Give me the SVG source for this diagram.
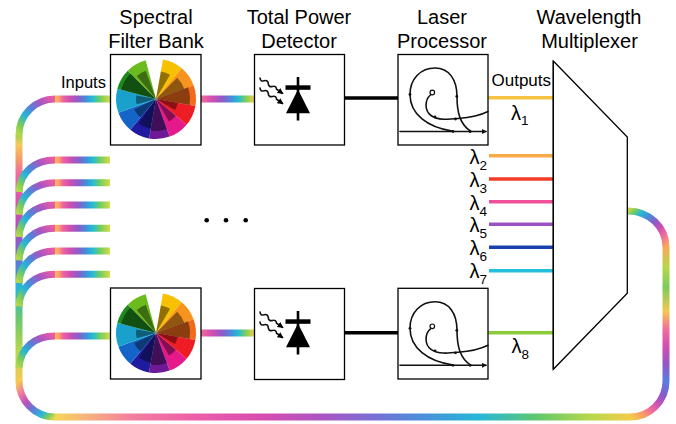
<svg xmlns="http://www.w3.org/2000/svg" xmlns:xlink="http://www.w3.org/1999/xlink" width="676" height="424" viewBox="0 0 676 424">
  <style>
    text { font-family: "Liberation Sans", Arial, Helvetica, sans-serif; fill: #000; }
    .title { font-size: 20px; text-anchor: middle; }
    .port { font-size: 16.5px; }
    .lam { font-size: 20px; }
    .sub { font-size: 13.5px; }
    .box { fill: #fff; stroke: #000; stroke-width: 1.3; }
    .rb { fill: none; stroke-width: 7; stroke-linecap: butt; }
    .link { fill: none; stroke: #000; stroke-width: 3.5; }
    .out { fill: none; stroke-width: 3.5; }
    .glow { fill: none; stroke: #9a9a9a; stroke-width: 5; opacity: 0.45; filter: url(#soft); }
    .ink { fill: none; stroke: #111; stroke-width: 1.6; stroke-linecap: round; }
    .shade { fill: #000; opacity: 0.42; }
  </style>
  <defs>
    <filter id="soft" x="-10%" y="-200%" width="120%" height="500%">
      <feGaussianBlur stdDeviation="1.3"/>
    </filter>
    <marker id="head" viewBox="0 0 10 10" refX="8" refY="5" markerWidth="6" markerHeight="6" markerUnits="userSpaceOnUse" orient="auto">
      <path d="M0,0 L10,5 L0,10 z" fill="#000"/>
    </marker>
    <marker id="headSmall" viewBox="0 0 10 10" refX="8" refY="5" markerWidth="5" markerHeight="5" markerUnits="userSpaceOnUse" orient="auto">
      <path d="M0,0 L10,5 L0,10 z" fill="#111"/>
    </marker>

    <!-- rainbow fibre gradients -->
    <linearGradient id="gStub" gradientUnits="userSpaceOnUse" x1="55" y1="0" x2="110" y2="0">
      <stop offset="0" stop-color="#fbbf4d"/>
      <stop offset="0.07" stop-color="#f9a070"/>
      <stop offset="0.14" stop-color="#f2639a"/>
      <stop offset="0.28" stop-color="#c94fb4"/>
      <stop offset="0.42" stop-color="#8f5bc8"/>
      <stop offset="0.55" stop-color="#4a88d8"/>
      <stop offset="0.68" stop-color="#20bcd8"/>
      <stop offset="0.82" stop-color="#72cc60"/>
      <stop offset="1" stop-color="#d6dc44"/>
    </linearGradient>
    <linearGradient id="gMid" gradientUnits="userSpaceOnUse" x1="201" y1="0" x2="254" y2="0">
      <stop offset="0" stop-color="#f26a9a"/>
      <stop offset="0.2" stop-color="#d24fb0"/>
      <stop offset="0.4" stop-color="#9358c8"/>
      <stop offset="0.55" stop-color="#4f86d8"/>
      <stop offset="0.7" stop-color="#22bad6"/>
      <stop offset="0.85" stop-color="#80ce58"/>
      <stop offset="1" stop-color="#ecd048"/>
    </linearGradient>
    <linearGradient id="gBranch" x1="1" y1="0" x2="0" y2="1">
      <stop offset="0" stop-color="#ee5aa6"/>
      <stop offset="0.25" stop-color="#a856c2"/>
      <stop offset="0.45" stop-color="#5a7ed8"/>
      <stop offset="0.65" stop-color="#26b6d6"/>
      <stop offset="0.85" stop-color="#7fcc58"/>
      <stop offset="1" stop-color="#b6d84a"/>
    </linearGradient>
    <linearGradient id="gTrunk" gradientUnits="userSpaceOnUse" x1="0" y1="135" x2="0" y2="381">
      <stop offset="0" stop-color="#a6d24e"/>
      <stop offset="0.04" stop-color="#f6c85a"/>
      <stop offset="0.1" stop-color="#f59a6a"/>
      <stop offset="0.16" stop-color="#f06aa0"/>
      <stop offset="0.3" stop-color="#d24db0"/>
      <stop offset="0.42" stop-color="#9a55c6"/>
      <stop offset="0.52" stop-color="#5a7cd8"/>
      <stop offset="0.62" stop-color="#27b5d6"/>
      <stop offset="0.75" stop-color="#6cc86c"/>
      <stop offset="0.88" stop-color="#b8d84c"/>
      <stop offset="1" stop-color="#f7c850"/>
    </linearGradient>
    <linearGradient id="gBLArc" x1="0" y1="0" x2="1" y2="1">
      <stop offset="0" stop-color="#f7c850"/>
      <stop offset="0.2" stop-color="#f07aa0"/>
      <stop offset="0.4" stop-color="#b852bc"/>
      <stop offset="0.6" stop-color="#5a80d8"/>
      <stop offset="0.78" stop-color="#2cb8d4"/>
      <stop offset="0.9" stop-color="#7ccc5c"/>
      <stop offset="1" stop-color="#d8d84a"/>
    </linearGradient>
    <linearGradient id="gBottom" gradientUnits="userSpaceOnUse" x1="55" y1="0" x2="630" y2="0">
      <stop offset="0" stop-color="#f5d654"/>
      <stop offset="0.05" stop-color="#f8b67a"/>
      <stop offset="0.13" stop-color="#f2809e"/>
      <stop offset="0.25" stop-color="#ec5ca8"/>
      <stop offset="0.36" stop-color="#d84cb0"/>
      <stop offset="0.47" stop-color="#a856c4"/>
      <stop offset="0.56" stop-color="#7470d6"/>
      <stop offset="0.64" stop-color="#4a90dc"/>
      <stop offset="0.74" stop-color="#26b8d6"/>
      <stop offset="0.84" stop-color="#62c86c"/>
      <stop offset="0.93" stop-color="#b6d84c"/>
      <stop offset="1" stop-color="#f4cc48"/>
    </linearGradient>
    <linearGradient id="gBRArc" x1="0" y1="1" x2="1" y2="0">
      <stop offset="0" stop-color="#f4cc48"/>
      <stop offset="0.2" stop-color="#f8a060"/>
      <stop offset="0.4" stop-color="#f06aa0"/>
      <stop offset="0.6" stop-color="#c050b8"/>
      <stop offset="0.8" stop-color="#8060d0"/>
      <stop offset="1" stop-color="#5a7ee0"/>
    </linearGradient>
    <linearGradient id="gRight" gradientUnits="userSpaceOnUse" x1="0" y1="381" x2="0" y2="247">
      <stop offset="0" stop-color="#5a7ee0"/>
      <stop offset="0.12" stop-color="#9058c8"/>
      <stop offset="0.25" stop-color="#d04eb0"/>
      <stop offset="0.38" stop-color="#f06aa0"/>
      <stop offset="0.52" stop-color="#f4c850"/>
      <stop offset="0.7" stop-color="#7ccc5c"/>
      <stop offset="0.85" stop-color="#b6d84a"/>
      <stop offset="1" stop-color="#f8a858"/>
    </linearGradient>
    <linearGradient id="gTRArc" x1="1" y1="1" x2="0" y2="0">
      <stop offset="0" stop-color="#f8a858"/>
      <stop offset="0.2" stop-color="#f06aa0"/>
      <stop offset="0.35" stop-color="#c850b4"/>
      <stop offset="0.5" stop-color="#8c5cc8"/>
      <stop offset="0.65" stop-color="#4a8ad8"/>
      <stop offset="0.8" stop-color="#26b8d6"/>
      <stop offset="0.92" stop-color="#7ccc5c"/>
      <stop offset="1" stop-color="#c4d84a"/>
    </linearGradient>

    <!-- colour wheel, centred on 0,0 -->
    <g id="wheel">
      <path d="M0 0 L6.95 -39.39 A40 40 0 0 1 25.71 -30.64 Z" fill="#f7c100"/>
      <path d="M0 0 L25.71 -30.64 A40 40 0 0 1 37.59 -13.68 Z" fill="#f7941d"/>
      <path d="M0 0 L37.59 -13.68 A40 40 0 0 1 39.39 6.95 Z" fill="#f26a1b"/>
      <path d="M0 0 L39.39 6.95 A40 40 0 0 1 30.64 25.71 Z" fill="#ee1c25"/>
      <path d="M0 0 L30.64 25.71 A40 40 0 0 1 13.68 37.59 Z" fill="#e6198a"/>
      <path d="M0 0 L13.68 37.59 A40 40 0 0 1 -6.95 39.39 Z" fill="#6e1a96"/>
      <path d="M0 0 L-6.95 39.39 A40 40 0 0 1 -25.71 30.64 Z" fill="#1f1a9e"/>
      <path d="M0 0 L-25.71 30.64 A40 40 0 0 1 -37.59 13.68 Z" fill="#1565c8"/>
      <path d="M0 0 L-37.59 13.68 A40 40 0 0 1 -38.64 -10.35 Z" fill="#1aa0cc"/>
      <path d="M0 0 L-38.64 -10.35 A40 40 0 0 1 -28.28 -28.28 Z" fill="#1e8a1e"/>
      <path d="M0 0 L-28.28 -28.28 A40 40 0 0 1 -10.35 -38.64 Z" fill="#6cbb1e"/>
      <!-- darker inner shades -->
      <path class="shade" d="M0 0 L4.86 -27.57 A28 28 0 0 1 14 -24.25 Z"/>
      <path class="shade" d="M0 0 L21.21 -21.21 A30 30 0 0 1 28.19 -10.26 Z"/>
      <path class="shade" d="M0 0 L31.95 -11.63 A34 34 0 0 1 33.48 5.9 Z"/>
      <path class="shade" d="M0 0 L21.67 3.82 A22 22 0 0 1 19.05 11 Z"/>
      <path class="shade" d="M0 0 L19.92 16.71 A26 26 0 0 1 13 22.52 Z"/>
      <path class="shade" d="M0 0 L10.94 30.07 A32 32 0 0 1 -5.56 31.51 Z"/>
      <path class="shade" d="M0 0 L-5.21 29.54 A30 30 0 0 1 -17.21 24.57 Z"/>
      <path class="shade" d="M0 0 L-15.43 18.38 A24 24 0 0 1 -21.75 10.14 Z"/>
      <path class="shade" d="M0 0 L-19.32 5.18 A20 20 0 0 1 -19.7 -3.47 Z"/>
      <path class="shade" d="M0 0 L-34.77 -9.32 A36 36 0 0 1 -25.46 -25.46 Z"/>
      <path class="shade" d="M0 0 L-19.28 -22.98 A30 30 0 0 1 -10.26 -28.19 Z"/>
      <circle r="1.6" fill="#888"/>
    </g>

    <!-- photodiode with incoming light, relative to its box corner -->
    <g id="diode">
      <path class="ink" d="M5.5 23.5 q0.38 3.89 4.14 2.81 t4.14 2.81 t4.14 2.81 t4.14 2.81 L28 38.8" stroke-width="1.3" marker-end="url(#head)"/>
      <path class="ink" d="M5.5 33.5 q0.38 3.89 4.14 2.81 t4.14 2.81 t4.14 2.81 t4.14 2.81 L28 49" stroke-width="1.3" marker-end="url(#head)"/>
      <line x1="43.5" y1="22.5" x2="43.5" y2="66" stroke="#000" stroke-width="2.6"/>
      <rect x="31" y="30.8" width="25" height="4.5" fill="#000"/>
      <path d="M43.5 35 L55.5 58.8 L31.5 58.8 Z" fill="#000"/>
    </g>

    <!-- laser trajectory sketch, relative to its box corner -->
    <g id="laser">
      <path class="ink" d="M2 77 L88 77" marker-end="url(#headSmall)"/>
      <path class="ink" d="M54 76.5 C30 73 12 60 12 40 C12 24 23 13.5 37 13.5 C51 13.5 59 25 59 42 C59 58 62 70 73 77"/>
      <path class="ink" d="M32.5 40.5 C27 45 26 56 33 61 C40 66 50 65 60 64 C72 63 82 61 90 57"/>
      <circle cx="34.3" cy="38" r="2.3" fill="#fff" stroke="#111" stroke-width="1.2"/>
      <g fill="#111">
        <circle cx="12" cy="40" r="1.4"/>
        <circle cx="58.8" cy="42" r="1.4"/>
        <circle cx="37" cy="62.5" r="1.4"/>
        <circle cx="57.5" cy="64.5" r="1.4"/>
        <circle cx="55" cy="77" r="1.4"/>
        <circle cx="72" cy="77" r="1.4"/>
      </g>
    </g>
  </defs>

  <rect width="676" height="424" fill="#fff"/>

  <!-- fibres and wires -->
  <g id="connectors">
    <!-- input bus -->
    <path class="rb" d="M110 99 H55" stroke="url(#gStub)"/>
    <path class="rb" d="M55 99 A36 36 0 0 0 19 135" stroke="url(#gBranch)"/>
    <path class="rb" d="M19 135 V381" stroke="url(#gTrunk)"/>
    <path class="rb" d="M19 381 A36 36 0 0 0 55 417" stroke="url(#gBLArc)"/>
    <path class="rb" d="M55 417 H630" stroke="url(#gBottom)"/>
    <path class="rb" d="M630 417 A36 36 0 0 0 666 381" stroke="url(#gBRArc)"/>
    <path class="rb" d="M666 381 V247" stroke="url(#gRight)"/>
    <path class="rb" d="M666 247 A38 36 0 0 0 628 211" stroke="url(#gTRArc)"/>

    <!-- branches off the bus -->
    <path class="rb" d="M55 160 C35 160 20 172 19 192" stroke="url(#gBranch)"/>
    <path class="rb" d="M55 182.7 C35 182.7 20 194.7 19 214.7" stroke="url(#gBranch)"/>
    <path class="rb" d="M55 205 C35 205 20 217 19 237" stroke="url(#gBranch)"/>
    <path class="rb" d="M55 228.3 C35 228.3 20 240.3 19 260.3" stroke="url(#gBranch)"/>
    <path class="rb" d="M55 251 C35 251 20 263 19 283" stroke="url(#gBranch)"/>
    <path class="rb" d="M55 274.3 C35 274.3 20 286.3 19 306.3" stroke="url(#gBranch)"/>
    <path class="rb" d="M55 336 C35 336 20 348 19 368" stroke="url(#gBranch)"/>
    <path class="rb" d="M55 160 H110" stroke="url(#gStub)"/>
    <path class="rb" d="M55 182.7 H110" stroke="url(#gStub)"/>
    <path class="rb" d="M55 205 H110" stroke="url(#gStub)"/>
    <path class="rb" d="M55 228.3 H110" stroke="url(#gStub)"/>
    <path class="rb" d="M55 251 H110" stroke="url(#gStub)"/>
    <path class="rb" d="M55 274.3 H110" stroke="url(#gStub)"/>
    <path class="rb" d="M55 336 H110" stroke="url(#gStub)"/>

    <!-- filter bank to detector -->
    <path class="rb" d="M201 99 H254.5" stroke="url(#gMid)"/>
    <path class="rb" d="M201 333 H254.5" stroke="url(#gMid)"/>

    <!-- detector to laser -->
    <path class="link" d="M344.5 98 H398"/>
    <path class="link" d="M344.5 332.7 H398"/>

    <!-- laser outputs into the multiplexer -->
    <g>
      <path class="glow" d="M490 97.7 H553"/>
      <path class="glow" d="M489 155.7 H553"/>
      <path class="glow" d="M489 179 H553"/>
      <path class="glow" d="M489 201.7 H553"/>
      <path class="glow" d="M489 224.3 H553"/>
      <path class="glow" d="M489 247.3 H553"/>
      <path class="glow" d="M489 270.7 H553"/>
      <path class="glow" d="M489 332.7 H553"/>
    </g>
    <path class="out" d="M488.5 97.7 H553" stroke="#f6c244"/>
    <path class="out" d="M489 155.7 H553" stroke="#f9aa48"/>
    <path class="out" d="M489 179 H553" stroke="#f23c26"/>
    <path class="out" d="M489 201.7 H553" stroke="#f0509a"/>
    <path class="out" d="M489 224.3 H553" stroke="#9a52c0"/>
    <path class="out" d="M489 247.3 H553" stroke="#1a40b0"/>
    <path class="out" d="M489 270.7 H553" stroke="#22c0dc"/>
    <path class="out" d="M488.5 332.7 H553" stroke="#8acb3c"/>
  </g>

  <!-- top channel -->
  <g id="filter-bank-1">
    <rect class="box" x="110.5" y="54.5" width="90.5" height="90.5"/>
    <use xlink:href="#wheel" href="#wheel" x="156" y="99"/>
    <text class="title" x="156" y="24">Spectral</text>
    <text class="title" x="156" y="47.5">Filter Bank</text>
  </g>
  <g id="power-detector-1">
    <rect class="box" x="254.5" y="54.5" width="90" height="90.5"/>
    <use xlink:href="#diode" href="#diode" x="254.5" y="54.5"/>
    <text class="title" x="299" y="24">Total Power</text>
    <text class="title" x="299" y="47.5">Detector</text>
  </g>
  <g id="laser-processor-1">
    <rect class="box" x="398" y="54.5" width="90" height="90.5"/>
    <use xlink:href="#laser" href="#laser" x="398" y="54.5"/>
    <text class="title" x="442" y="24">Laser</text>
    <text class="title" x="442" y="47.5">Processor</text>
  </g>

  <!-- bottom channel -->
  <g id="filter-bank-8">
    <rect class="box" x="110.5" y="288" width="90.5" height="91"/>
    <use xlink:href="#wheel" href="#wheel" x="156" y="333"/>
  </g>
  <g id="power-detector-8">
    <rect class="box" x="254.5" y="288.5" width="90" height="91"/>
    <use xlink:href="#diode" href="#diode" x="254.5" y="288.5"/>
  </g>
  <g id="laser-processor-8">
    <rect class="box" x="398" y="288.3" width="90" height="90.7"/>
    <use xlink:href="#laser" href="#laser" x="398" y="288.3"/>
  </g>

  <!-- multiplexer -->
  <g id="multiplexer">
    <polygon points="553.3,61 627.3,137 627.3,293.3 553.3,369.3" fill="#fff" stroke="#000" stroke-width="1.3"/>
    <path d="M553.3 61 V369.3" stroke="#000" stroke-width="1.3"/>
    <text class="title" x="589" y="24">Wavelength</text>
    <text class="title" x="589.5" y="47.5">Multiplexer</text>
  </g>

  <!-- port labels and wavelengths -->
  <g id="labels">
    <text class="port" x="61" y="88">Inputs</text>
    <text class="port" x="491.5" y="86" style="font-size:17px">Outputs</text>
    <text class="lam" x="511" y="119.5">λ<tspan class="sub" dy="5">1</tspan></text>
    <text class="lam" x="487" y="163.5" text-anchor="end">λ<tspan class="sub" dy="6">2</tspan></text>
    <text class="lam" x="487" y="186.8" text-anchor="end">λ<tspan class="sub" dy="6">3</tspan></text>
    <text class="lam" x="487" y="209.5" text-anchor="end">λ<tspan class="sub" dy="6">4</tspan></text>
    <text class="lam" x="487" y="232.1" text-anchor="end">λ<tspan class="sub" dy="6">5</tspan></text>
    <text class="lam" x="487" y="255.1" text-anchor="end">λ<tspan class="sub" dy="6">6</tspan></text>
    <text class="lam" x="487" y="278.2" text-anchor="end">λ<tspan class="sub" dy="6">7</tspan></text>
    <text class="lam" x="511.5" y="352.5">λ<tspan class="sub" dy="6">8</tspan></text>
  </g>

  <!-- ellipsis between channels -->
  <g id="ellipsis" fill="#000">
    <circle cx="206.7" cy="220.3" r="2.3"/>
    <circle cx="226" cy="220.3" r="2.3"/>
    <circle cx="245.7" cy="220.3" r="2.3"/>
  </g>
</svg>
